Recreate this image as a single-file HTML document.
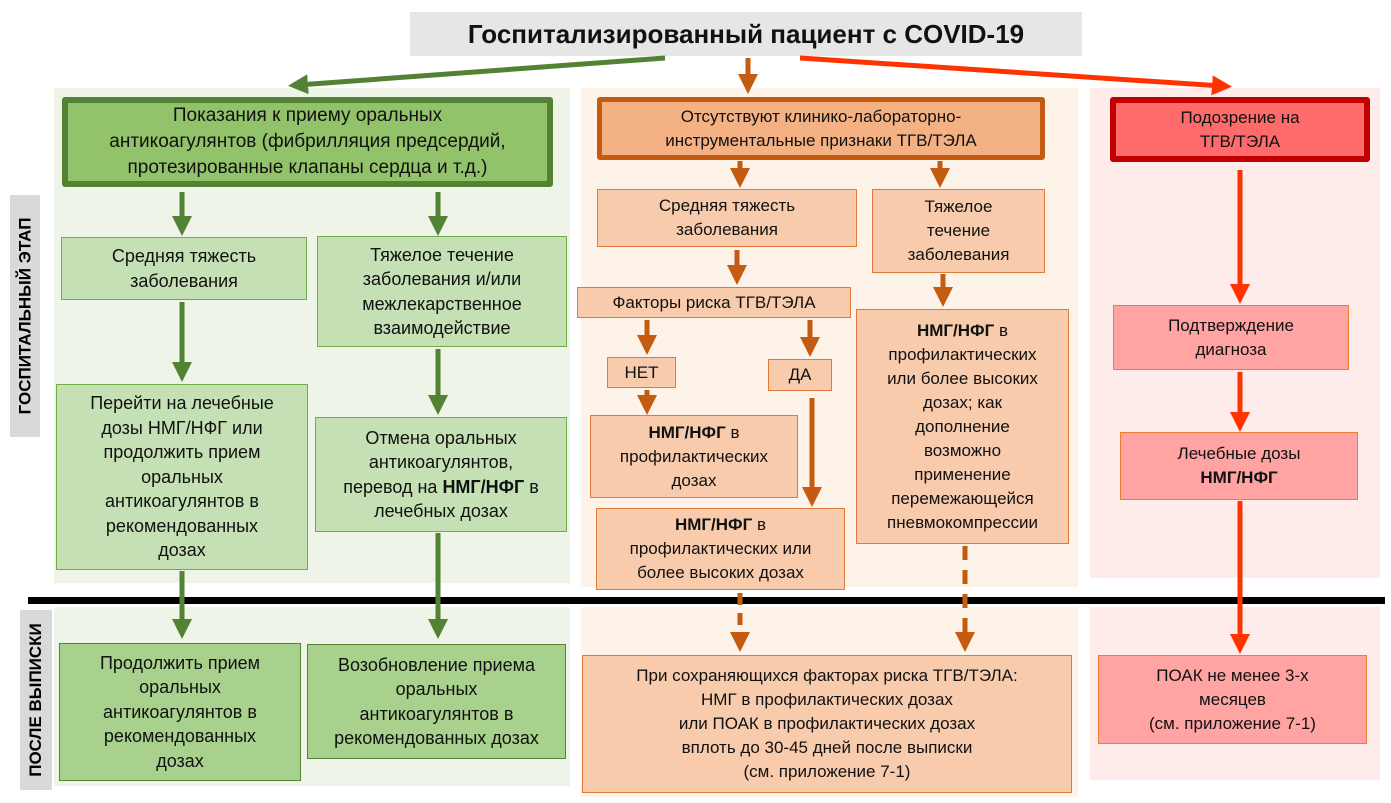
<!DOCTYPE html>
<html><head><meta charset="utf-8"><style>
body{margin:0;width:1391px;height:803px;position:relative;background:#fff;font-family:"Liberation Sans","DejaVu Sans",sans-serif;overflow:hidden}
.a{position:absolute;box-sizing:border-box;display:flex;align-items:center;justify-content:center;text-align:center;color:#111;font-size:17px;line-height:24px}
.g,.gd{font-size:18px;line-height:24.5px}
.g{background:#c5e0b4;border:1.5px solid #70ad47}
.gd{background:#a9d18e;border:1.5px solid #548235}
.o{background:#f8cbad;border:1.5px solid #e07b39}
.r{background:#ffa3a3;border:1.5px solid #ed7d31}
.bg{position:absolute}
.vl{position:absolute;background:#d9d9d9;font-weight:bold;font-size:17px;display:flex;align-items:center;justify-content:center}
.vl span{transform:rotate(-90deg);white-space:nowrap}
svg{position:absolute;left:0;top:0}
</style></head><body>
<div class="bg" style="left:54px;top:88px;width:516px;height:495px;background:#eef5e8"></div>
<div class="bg" style="left:54px;top:607px;width:516px;height:179px;background:#eef5e8"></div>
<div class="bg" style="left:581px;top:88px;width:497px;height:499px;background:#fef3e8"></div>
<div class="bg" style="left:581px;top:607px;width:497px;height:190px;background:#fef3e8"></div>
<div class="bg" style="left:1090px;top:88px;width:290px;height:490px;background:#fdecea"></div>
<div class="bg" style="left:1090px;top:607px;width:290px;height:173px;background:#fdecea"></div>
<div class="bg" style="left:28px;top:597px;width:1357px;height:7px;background:#000"></div>
<div class="vl" style="left:10px;top:195px;width:30px;height:242px"><span>ГОСПИТАЛЬНЫЙ ЭТАП</span></div>
<div class="vl" style="left:20px;top:610px;width:32px;height:180px"><span>ПОСЛЕ ВЫПИСКИ</span></div>
<div class="a" style="left:410px;top:12px;width:672px;height:44px;background:#e6e6e6;font-weight:bold;font-size:26px">Госпитализированный пациент с COVID-19</div>

<div class="a" style="left:62px;top:97px;width:491px;height:90px;background:#92c36a;border:6px solid #548235;border-radius:3px;font-size:19px;line-height:26px"><div>Показания к приему оральных<br>антикоагулянтов (фибрилляция предсердий,<br>протезированные клапаны сердца и т.д.)</div></div>
<div class="a g" style="left:61px;top:237px;width:246px;height:63px"><div>Средняя тяжесть<br>заболевания</div></div>
<div class="a g" style="left:317px;top:236px;width:250px;height:111px"><div>Тяжелое течение<br>заболевания и/или<br>межлекарственное<br>взаимодействие</div></div>
<div class="a g" style="left:56px;top:384px;width:252px;height:186px"><div>Перейти на лечебные<br>дозы НМГ/НФГ или<br>продолжить прием<br>оральных<br>антикоагулянтов в<br>рекомендованных<br>дозах</div></div>
<div class="a g" style="left:315px;top:417px;width:252px;height:115px"><div>Отмена оральных<br>антикоагулянтов,<br>перевод на <b>НМГ/НФГ</b> в<br>лечебных дозах</div></div>
<div class="a gd" style="left:59px;top:643px;width:242px;height:138px"><div>Продолжить прием<br>оральных<br>антикоагулянтов в<br>рекомендованных<br>дозах</div></div>
<div class="a gd" style="left:307px;top:644px;width:259px;height:115px"><div>Возобновление приема<br>оральных<br>антикоагулянтов в<br>рекомендованных дозах</div></div>

<div class="a" style="left:597px;top:97px;width:448px;height:63px;background:#f4b183;border:5px solid #c55a11;border-radius:3px"><div>Отсутствуют клинико-лабораторно-<br>инструментальные признаки ТГВ/ТЭЛА</div></div>
<div class="a o" style="left:597px;top:189px;width:260px;height:58px"><div>Средняя тяжесть<br>заболевания</div></div>
<div class="a o" style="left:872px;top:189px;width:173px;height:84px"><div>Тяжелое<br>течение<br>заболевания</div></div>
<div class="a o" style="left:577px;top:287px;width:274px;height:31px">Факторы риска ТГВ/ТЭЛА</div>
<div class="a o" style="left:607px;top:357px;width:69px;height:31px">НЕТ</div>
<div class="a o" style="left:768px;top:359px;width:64px;height:32px">ДА</div>
<div class="a o" style="left:590px;top:415px;width:208px;height:83px"><div><b>НМГ/НФГ</b> в<br>профилактических<br>дозах</div></div>
<div class="a o" style="left:596px;top:508px;width:249px;height:82px"><div><b>НМГ/НФГ</b> в<br>профилактических или<br>более высоких дозах</div></div>
<div class="a o" style="left:856px;top:309px;width:213px;height:235px"><div><b>НМГ/НФГ</b> в<br>профилактических<br>или более высоких<br>дозах; как<br>дополнение<br>возможно<br>применение<br>перемежающейся<br>пневмокомпрессии</div></div>
<div class="a o" style="left:582px;top:655px;width:490px;height:138px;background:#f8cbad"><div>При сохраняющихся факторах риска ТГВ/ТЭЛА:<br>НМГ в профилактических дозах<br>или ПОАК в профилактических дозах<br>вплоть до 30-45 дней после выписки<br>(см. приложение 7-1)</div></div>

<div class="a" style="left:1110px;top:97px;width:260px;height:65px;background:#ff6b6b;border:6px solid #c00000;border-radius:3px"><div>Подозрение на<br>ТГВ/ТЭЛА</div></div>
<div class="a r" style="left:1113px;top:305px;width:236px;height:65px"><div>Подтверждение<br>диагноза</div></div>
<div class="a r" style="left:1120px;top:432px;width:238px;height:68px"><div>Лечебные дозы<br><b>НМГ/НФГ</b></div></div>
<div class="a r" style="left:1098px;top:655px;width:269px;height:89px"><div>ПОАК не менее 3-х<br>месяцев<br>(см. приложение 7-1)</div></div>

<svg width="1391" height="803">
<defs>
<marker id="mg" markerWidth="4" markerHeight="4" refX="2" refY="2" orient="auto" markerUnits="strokeWidth"><path d="M0,0L4,2L0,4z" fill="#548235"/></marker>
<marker id="mo" markerWidth="4" markerHeight="4" refX="2" refY="2" orient="auto" markerUnits="strokeWidth"><path d="M0,0L4,2L0,4z" fill="#c55a11"/></marker>
<marker id="mr" markerWidth="4" markerHeight="4" refX="2" refY="2" orient="auto" markerUnits="strokeWidth"><path d="M0,0L4,2L0,4z" fill="#ff3300"/></marker>
</defs>
<g stroke="#548235" stroke-width="5" marker-end="url(#mg)">
<line x1="665" y1="58" x2="298" y2="85"/>
<line x1="182" y1="192" x2="182" y2="226"/>
<line x1="438" y1="192" x2="438" y2="226"/>
<line x1="182" y1="302" x2="182" y2="372"/>
<line x1="438" y1="349" x2="438" y2="405"/>
<line x1="182" y1="571" x2="182" y2="629"/>
<line x1="438" y1="533" x2="438" y2="629"/>
</g>
<g stroke="#c55a11" stroke-width="5" marker-end="url(#mo)">
<line x1="748" y1="58" x2="748" y2="84"/>
<line x1="740" y1="161" x2="740" y2="178"/>
<line x1="940" y1="161" x2="940" y2="178"/>
<line x1="737" y1="250" x2="737" y2="275"/>
<line x1="647" y1="320" x2="647" y2="345"/>
<line x1="810" y1="320" x2="810" y2="347"/>
<line x1="647" y1="390" x2="647" y2="405"/>
<line x1="812" y1="398" x2="812" y2="497"/>
<line x1="943" y1="274" x2="943" y2="297"/>
<line x1="740" y1="593" x2="740" y2="642" stroke-dasharray="12,8"/>
<line x1="965" y1="546" x2="965" y2="642" stroke-dasharray="14,10"/>
</g>
<g stroke="#ff3300" stroke-width="5" marker-end="url(#mr)">
<line x1="800" y1="58" x2="1222" y2="86"/>
<line x1="1240" y1="170" x2="1240" y2="294"/>
<line x1="1240" y1="372" x2="1240" y2="422"/>
<line x1="1240" y1="501" x2="1240" y2="644"/>
</g>
</svg>
</body></html>
